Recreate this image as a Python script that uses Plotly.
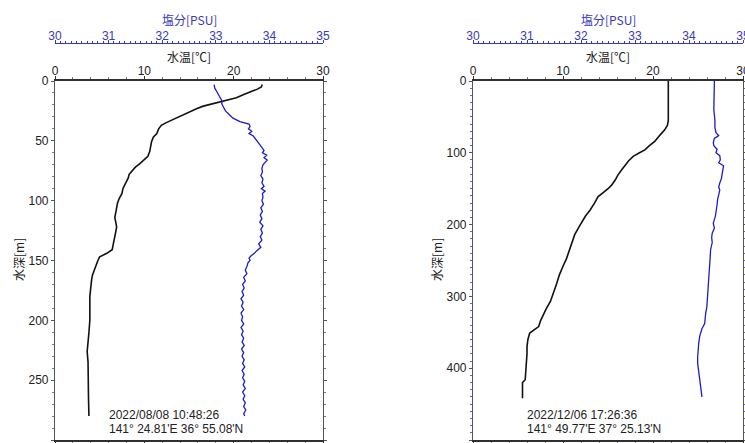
import plotly.graph_objects as go

# ---- Station 1: 2022/08/08 ----
st1_temp_depth = [3, 5, 7, 9, 11, 14, 16, 17, 19, 21, 23, 25, 27, 29, 31, 33, 35, 37, 40, 44,
                  47, 51, 55, 59, 63, 66, 69, 72, 75, 78, 81, 84, 87, 90, 94, 98, 102, 106, 110, 114,
                  118, 122, 126, 130, 134, 138, 141, 144, 147, 150, 154, 158, 162, 166, 172, 180, 190, 200, 210, 220,
                  226, 235, 250, 265, 280]
st1_temp = [23.2, 23.1, 22.6, 21.8, 21.2, 20.3, 19.2, 18.6, 17.4, 16.6, 15.9, 15.3, 14.6, 14.0, 13.6, 13.0, 12.4, 11.9, 11.6, 11.4,
            11.0, 10.8, 10.7, 10.6, 10.4, 10.0, 9.5, 9.0, 8.6, 8.3, 8.2, 8.0, 7.8, 7.6, 7.5, 7.2, 7.0, 6.9, 6.8, 6.7,
            6.8, 6.9, 6.8, 6.7, 6.6, 6.5, 6.4, 5.8, 5.0, 4.8, 4.6, 4.4, 4.2, 4.1, 4.0, 3.9, 3.9, 3.9, 3.8, 3.7,
            3.6, 3.7, 3.7, 3.75, 3.8]

st1_sal_depth = [3, 6, 9, 12, 15, 17, 19, 22, 25, 28, 31, 34, 36, 38, 40, 42, 44, 46, 49, 52,
                 55, 58, 60, 62, 64, 66, 68, 70, 73, 76, 79, 82, 85, 88, 90, 92, 94, 97, 100, 103,
                 106, 109, 112, 115, 118, 121, 124, 127, 130, 133, 136, 139, 142, 144, 146, 148, 150, 152, 155, 158,
                 161, 164, 167, 170, 173, 176, 179, 182, 185, 188, 191, 194, 197, 200, 203, 206, 209, 212, 215, 218,
                 221, 224, 227, 230, 233, 236, 239, 242, 245, 248, 251, 254, 257, 260, 263, 266, 269, 272, 275, 278, 280]
st1_sal = [32.97, 32.98, 33.02, 33.06, 33.10, 33.12, 33.11, 33.14, 33.18, 33.25, 33.32, 33.45, 33.62, 33.64, 33.61, 33.67, 33.62, 33.70, 33.75, 33.80,
           33.85, 33.90, 33.87, 33.95, 33.90, 33.96, 33.92, 33.88, 33.86, 33.87, 33.84, 33.88, 33.86, 33.90, 33.85, 33.92, 33.87, 33.88, 33.86, 33.89,
           33.84, 33.87, 33.83, 33.86, 33.82, 33.88, 33.84, 33.87, 33.83, 33.86, 33.80, 33.84, 33.76, 33.72, 33.66, 33.62, 33.64, 33.60, 33.58, 33.55,
           33.58, 33.52, 33.55, 33.50, 33.53, 33.49, 33.52, 33.47, 33.51, 33.48, 33.52, 33.47, 33.50, 33.48, 33.52, 33.47, 33.51, 33.48, 33.52, 33.49,
           33.53, 33.48, 33.52, 33.49, 33.53, 33.50, 33.54, 33.49, 33.53, 33.50, 33.54, 33.51, 33.55, 33.50, 33.54, 33.51, 33.55, 33.52, 33.56, 33.52, 33.54]

# ---- Station 2: 2022/12/06 ----
st2_temp_depth = [0, 20, 40, 55, 62, 68, 75, 84, 90, 96, 100, 105, 111, 117, 124, 131, 138, 145, 150, 156,
                  161, 170, 180, 188, 196, 205, 214, 225, 235, 247, 258, 270, 282, 295, 307, 318, 326, 334, 342, 347,
                  351, 360, 370, 380, 395, 410, 416, 420, 430, 442]
st2_temp = [21.7, 21.7, 21.7, 21.7, 21.6, 21.3, 20.8, 20.2, 19.6, 19.1, 18.5, 17.8, 17.3, 16.9, 16.5, 16.1, 15.8, 15.4, 15.0, 14.4,
            13.9, 13.5, 13.0, 12.5, 12.1, 11.7, 11.3, 11.0, 10.8, 10.4, 10.0, 9.6, 9.3, 8.9, 8.6, 8.1, 7.8, 7.5, 7.3, 6.7,
            6.3, 6.1, 6.0, 6.0, 5.9, 5.8, 5.8, 5.5, 5.5, 5.5]

st2_sal_depth = [0, 20, 40, 55, 65, 72, 76, 80, 86, 90, 95, 100, 104, 110, 114, 118, 124, 130, 136, 142,
                 148, 152, 158, 165, 172, 180, 188, 198, 205, 212, 218, 225, 235, 248, 260, 270, 283, 295, 305, 315,
                 323, 330, 338, 345, 355, 365, 373, 385, 393, 405, 420, 430, 440]
st2_sal = [34.47, 34.47, 34.46, 34.48, 34.48, 34.50, 34.55, 34.47, 34.45, 34.46, 34.52, 34.50, 34.57, 34.58, 34.55, 34.64, 34.63, 34.61, 34.60, 34.57,
           34.55, 34.57, 34.55, 34.53, 34.52, 34.51, 34.49, 34.45, 34.47, 34.43, 34.42, 34.43, 34.40, 34.39, 34.38, 34.37, 34.36, 34.35, 34.33, 34.33,
           34.31, 34.30, 34.29, 34.24, 34.20, 34.18, 34.17, 34.16, 34.16, 34.18, 34.20, 34.22, 34.24]

stations = [
    dict(temp_depth=st1_temp_depth, temp=st1_temp, sal_depth=st1_sal_depth, sal=st1_sal,
         max_depth=300, date="2022/08/08 10:48:26", pos="141° 24.81'E 36° 55.08'N"),
    dict(temp_depth=st2_temp_depth, temp=st2_temp, sal_depth=st2_sal_depth, sal=st2_sal,
         max_depth=500, date="2022/12/06 17:26:36", pos="141° 49.77'E 37° 25.13'N"),
]

temp_ticks = [0, 10, 20, 30]
sal_ticks = [30, 31, 32, 33, 34, 35]

W, H = 745, 443
def px(x):
    return x / W
def py(y):
    return 1 - y / H

panels = [(55, 323), (473, 743)]
plot_top, plot_bottom = 81, 440
sal_line_y = 43

LATIN = "Liberation Sans, Arial, sans-serif"
CJK = "Noto Sans CJK JP, sans-serif"
BLUE_AX = "#3a3ab4"
BLUE_LINE = "#1c1cc8"
FRAME = "#303030"

fig = go.Figure()
layout = dict(
    width=W, height=H,
    margin=dict(l=0, r=0, t=0, b=0, autoexpand=False),
    paper_bgcolor="white", plot_bgcolor="white",
    showlegend=False,
    annotations=[],
)

for i, (st, (x0, x1)) in enumerate(zip(stations, panels)):
    tx = f"x{2*i+1}" if i else "x"
    sx = f"x{2*i+2}"
    yy = f"y{i+1}" if i else "y"
    tkey = "xaxis" + (str(2*i+1) if i else "")
    skey = "xaxis" + str(2*i+2)
    ykey = "yaxis" + (str(i+1) if i else "")
    dom = [px(x0), px(x1)]

    fig.add_trace(go.Scatter(x=st["temp"], y=st["temp_depth"], xaxis=tx, yaxis=yy,
                             mode="lines", line=dict(color="#111111", width=1.6)))
    fig.add_trace(go.Scatter(x=st["sal"], y=st["sal_depth"], xaxis=sx, yaxis=yy,
                             mode="lines", line=dict(color=BLUE_LINE, width=1.3)))

    layout[tkey] = dict(
        domain=dom, range=[0, 30], side="top", anchor=yy, automargin=False,
        tickvals=temp_ticks, ticks="outside", ticklen=3, tickwidth=1, tickcolor=FRAME,
        ticklabelstandoff=-4, ticklabeloverflow="allow",
        minor=dict(dtick=2, ticks="outside", ticklen=2, tickcolor="#777777"),
        showline=True, linecolor=FRAME, linewidth=1.6, mirror="ticks",
        showgrid=False, zeroline=False,
        tickfont=dict(family=LATIN, size=12, color="#222222"),
    )
    layout[skey] = dict(
        domain=dom, range=[30, 35], side="top", anchor="free", overlaying=tx,
        position=py(sal_line_y), automargin=False,
        tickvals=sal_ticks, ticks="outside", ticklen=3, tickwidth=1, tickcolor=BLUE_AX,
        ticklabelstandoff=-5, ticklabeloverflow="allow",
        minor=dict(dtick=0.1, ticks="outside", ticklen=1.5, tickcolor=BLUE_AX),
        showline=True, linecolor=BLUE_AX, linewidth=1.2,
        showgrid=False, zeroline=False,
        tickfont=dict(family=LATIN, size=12, color=BLUE_AX),
    )
    layout[ykey] = dict(
        domain=[py(plot_bottom), py(plot_top)], range=[st["max_depth"], 0], anchor=tx,
        automargin=False,
        dtick=50 if st["max_depth"] == 300 else 100,
        ticks="outside", ticklen=3, tickwidth=1, tickcolor="#555555",
        minor=dict(dtick=10, ticks="outside", ticklen=2,
                   tickcolor="#777777" if i == 0 else "#6a6ab0"),
        showline=True, linecolor="#555555", linewidth=1.2, mirror="ticks",
        showgrid=False, zeroline=False,
        tickfont=dict(family=LATIN, size=12, color="#222222"),
    )

    cx = (x0 + x1) / 2
    center = dict(xref="paper", yref="paper", xanchor="center", yanchor="middle", showarrow=False)
    leftal = dict(xref="paper", yref="paper", xanchor="left", yanchor="middle", showarrow=False)
    layout["annotations"] += [
        dict(text="塩分[PSU]", x=px(cx), y=py(19), font=dict(family=CJK, size=12, color=BLUE_AX), **center),
        dict(text="水温[℃]", x=px(cx), y=py(56), font=dict(family=CJK, size=12, color="#222222"), **center),
        dict(text="水深[m]", x=px(x0 - 37), y=py(260), textangle=-90,
             font=dict(family=CJK, size=12, color="#222222"), **center),
        dict(text=st["date"], x=px(x0 + 52), y=py(415),
             font=dict(family=LATIN, size=12, color="#222222"), **leftal),
        dict(text=st["pos"], x=px(x0 + 52), y=py(429),
             font=dict(family=LATIN, size=12, color="#222222"), **leftal),
    ]

fig.update_layout(**layout)
fig.write_html("out.html")
